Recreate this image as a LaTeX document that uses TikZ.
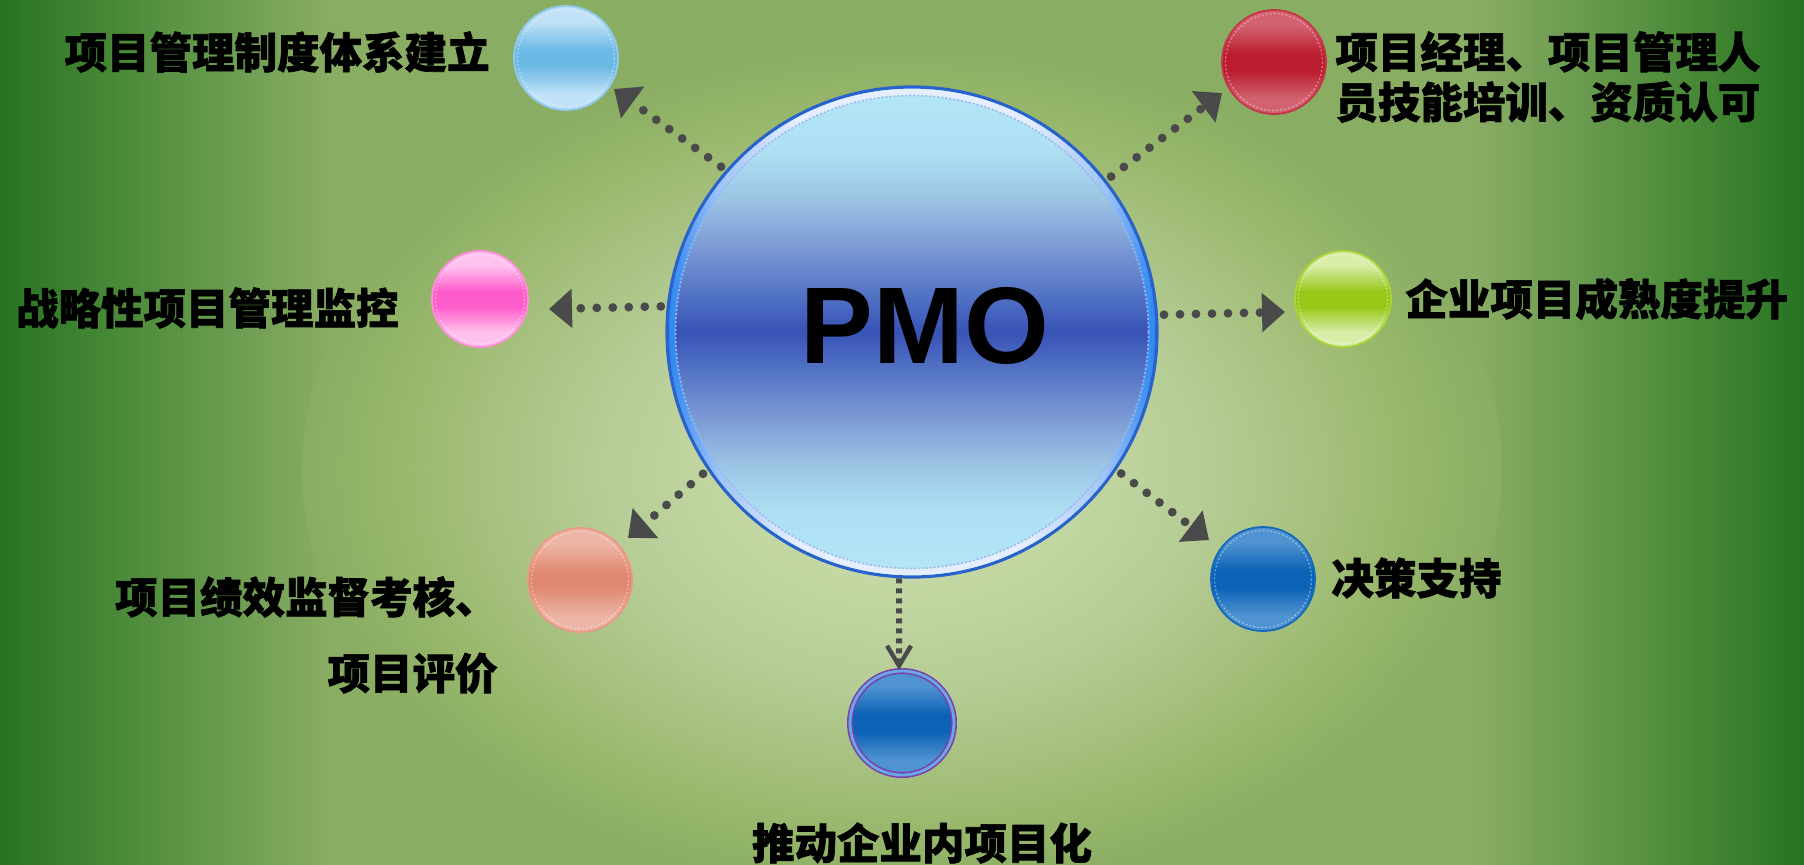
\documentclass[tikz,border=0pt]{standalone}
\usepackage{fontspec}
\newfontfamily\cjk{Noto Sans CJK SC}[BoldFeatures={FakeBold=1.5}]
\newfontfamily\pmofont{Liberation Sans}
\usetikzlibrary{arrows.meta}

\definecolor{bgE}{HTML}{267322}
\definecolor{bg1}{HTML}{4A8A38}
\definecolor{bg2}{HTML}{6E9E52}
\definecolor{bgP}{HTML}{8AAD64}
\definecolor{gl0}{HTML}{CDDFAE}
\definecolor{gl1}{HTML}{C2D6A2}
\definecolor{gl2}{HTML}{B6CD96}
\definecolor{gl3}{HTML}{A6C07E}
\definecolor{gl4}{HTML}{9CBA70}
\definecolor{gl5}{HTML}{92B468}
\definecolor{pmL}{HTML}{B3E6F6}
\definecolor{pm1}{HTML}{AEE0F4}
\definecolor{pm2}{HTML}{9CC4E4}
\definecolor{pm3}{HTML}{7A98D4}
\definecolor{pm4}{HTML}{5070C4}
\definecolor{pmD}{HTML}{3753B6}
\definecolor{pmE}{HTML}{2A62CC}
\definecolor{rimB}{HTML}{2C86F2}
\definecolor{rimM}{HTML}{9CC2FA}
\definecolor{rimW}{HTML}{E4EEFE}
\definecolor{hatch}{HTML}{9AB8E8}
\definecolor{lbL}{HTML}{C0E1F6}
\definecolor{lbM}{HTML}{6DB9E6}
\definecolor{lbE}{HTML}{90CBEF}
\definecolor{rdL}{HTML}{D2626F}
\definecolor{rdM}{HTML}{BB1C2F}
\definecolor{rdE}{HTML}{C43545}
\definecolor{pkL}{HTML}{FFC2EE}
\definecolor{pkM}{HTML}{FF5CCB}
\definecolor{pkE}{HTML}{FF8FD8}
\definecolor{grL}{HTML}{D9EDA9}
\definecolor{grM}{HTML}{98C818}
\definecolor{grE}{HTML}{A9D636}
\definecolor{saL}{HTML}{EDB5A5}
\definecolor{saM}{HTML}{DF8A70}
\definecolor{saE}{HTML}{E89A86}
\definecolor{blL}{HTML}{4F93D0}
\definecolor{blM}{HTML}{0B62B6}
\definecolor{blE}{HTML}{1469BD}
\definecolor{blG}{HTML}{6AA8E0}
\definecolor{puE}{HTML}{7A3FB0}
\definecolor{arrowgray}{HTML}{4A4A4A}

% TikZ maps the central 25bp..75bp of a shading onto the path's bounding box
\pgfdeclarehorizontalshading{bgshade}{100bp}{color(0bp)=(bgE); color(25bp)=(bgE); color(28.3bp)=(bg1); color(31.65bp)=(bg2); color(34.15bp)=(bgP); color(65.85bp)=(bgP); color(68.35bp)=(bg2); color(71.7bp)=(bg1); color(75bp)=(bgE); color(100bp)=(bgE)}
\pgfdeclareradialshading{glowshade}{\pgfpoint{0bp}{0bp}}{color(0bp)=(gl0); color(7.5bp)=(gl1); color(12.5bp)=(gl2); color(17.5bp)=(gl3); color(20bp)=(gl4); color(22.5bp)=(gl5); color(25bp)=(bgP); color(50bp)=(bgP)}
\pgfdeclareverticalshading{pmoshade}{100bp}{color(0bp)=(pmL); color(25bp)=(pmL); color(31.5bp)=(pm1); color(36.5bp)=(pm2); color(41.5bp)=(pm3); color(46.5bp)=(pm4); color(50bp)=(pmD); color(53.5bp)=(pm4); color(58.5bp)=(pm3); color(63.5bp)=(pm2); color(68.5bp)=(pm1); color(75bp)=(pmL); color(100bp)=(pmL)}
\pgfdeclarehorizontalshading{rimshade}{100bp}{color(0bp)=(rimB); color(25bp)=(rimB); color(30bp)=(rimM); color(38bp)=(rimW); color(62bp)=(rimW); color(70bp)=(rimM); color(75bp)=(rimB); color(100bp)=(rimB)}
\newcommand{\orbshade}[3]{\pgfdeclareverticalshading{#1}{100bp}{color(0bp)=(#2); color(25bp)=(#2); color(32.5bp)=(#2); color(46bp)=(#3); color(54bp)=(#3); color(67.5bp)=(#2); color(75bp)=(#2); color(100bp)=(#2)}}
\orbshade{sh-lb}{lbL}{lbM}
\orbshade{sh-rd}{rdL}{rdM}
\orbshade{sh-pk}{pkL}{pkM}
\orbshade{sh-gr}{grL}{grM}
\orbshade{sh-sa}{saL}{saM}
\orbshade{sh-bl}{blL}{blM}

\begin{document}
\begin{tikzpicture}[x=0.5pt,y=-0.5pt,
  orb/.style={circle, inner sep=0pt, minimum size=#1, line width=0.9pt, shade},
  lbl/.style={inner sep=0pt, text=black, font=\cjk\bfseries\fontsize{21.25pt}{25pt}\selectfont},
  dotarrow/.style={draw=arrowgray, line width=4.4pt, line cap=round, dash pattern=on 0pt off 8pt, shorten <=3pt, -{Triangle[length=11.5pt,width=19pt]}},
  dasharrow/.style={draw=arrowgray, line width=3pt, dash pattern=on 2.5pt off 2.5pt, -{Straight Barb[length=10pt,width=12pt,line width=2.2pt]}}
]
\useasboundingbox (0,0) rectangle (1804,864);
% background: horizontal gradient plus central glow
\shade[shading=bgshade] (0,0) rectangle (1804,864);
\shade[shading=glowshade] (902,470) ellipse [x radius=600, y radius=430];

% central circle
\node[circle, inner sep=0pt, minimum size=245pt, shade, shading=pmoshade, draw=pmE, line width=1.6pt] (pmo) at (912,332) {};
\shade[shading=rimshade, even odd rule] (pmo.center) circle (243.2) circle (236.5);
\draw[hatch, line width=0.8pt, dash pattern=on 1pt off 1pt] (pmo.center) circle (236.5);
\node[inner sep=0pt, anchor=base, font=\pmofont\bfseries\fontsize{54.5pt}{60pt}\selectfont] (pmot) at (925,363) {PMO};

% small circles
\node[orb=52pt, shading=sh-lb, draw=lbE] (c1) at (566,58) {};
\node[orb=52pt, shading=sh-rd, draw=rdE] (c2) at (1274,62) {};
\node[orb=48pt, shading=sh-pk, draw=pkE] (c3) at (480,299) {};
\node[orb=48pt, shading=sh-gr, draw=grE] (c4) at (1343,299) {};
\node[orb=52pt, shading=sh-sa, draw=saE] (c5) at (580,580) {};
\node[orb=52pt, shading=sh-bl, draw=blE] (c6) at (1263,579) {};
\node[orb=52pt, shading=sh-bl, draw=puE, line width=0.8pt, double=blG, double distance=1.4pt] (c7) at (902,723) {};
\foreach \n/\r in {c1/48.5, c2/48.5, c3/44.5, c4/44.5, c5/48.5, c6/48.5}
  \draw[white, opacity=0.4, line width=0.6pt, dash pattern=on 1pt off 1pt] (\n.center) circle (\r);

% arrow tips
\coordinate (e1) at (614,89);
\coordinate (e2) at (1222,93);
\coordinate (e3) at (549,309);
\coordinate (e4) at (1285,312);
\coordinate (e5) at (628,538);
\coordinate (e6) at (1209,540);
\coordinate (e7) at (899,670);

\draw[dotarrow] (pmo.139.55) -- (e1);
\draw[dotarrow] (pmo.38.5) -- (e2);
\draw[dotarrow] (pmo.174.7) -- (e3);
\draw[dotarrow] (pmo.4.6) -- (e4);
\draw[dotarrow] (pmo.214.9) -- (e5);
\draw[dotarrow] (pmo.326.1) -- (e6);
\draw[dasharrow] (pmo.267) -- (e7);

% labels
\node[lbl, anchor=east] (t1) at (490,52) {项目管理制度体系建立};
\node[lbl, anchor=west, align=left] (t2) at (1335,77) {项目经理、项目管理人\\员技能培训、资质认可};
\node[lbl, anchor=east] (t3) at (399,308) {战略性项目管理监控};
\node[lbl, anchor=west] (t4) at (1405,299) {企业项目成熟度提升};
\node[lbl, anchor=east, align=right, font=\cjk\bfseries\fontsize{21.25pt}{38pt}\selectfont] (t5) at (498,635) {项目绩效监督考核、\\项目评价};
\node[lbl, anchor=west] (t6) at (1331,578) {决策支持};
\node[lbl] (t7) at (922,843) {推动企业内项目化};
\end{tikzpicture}
\end{document}
